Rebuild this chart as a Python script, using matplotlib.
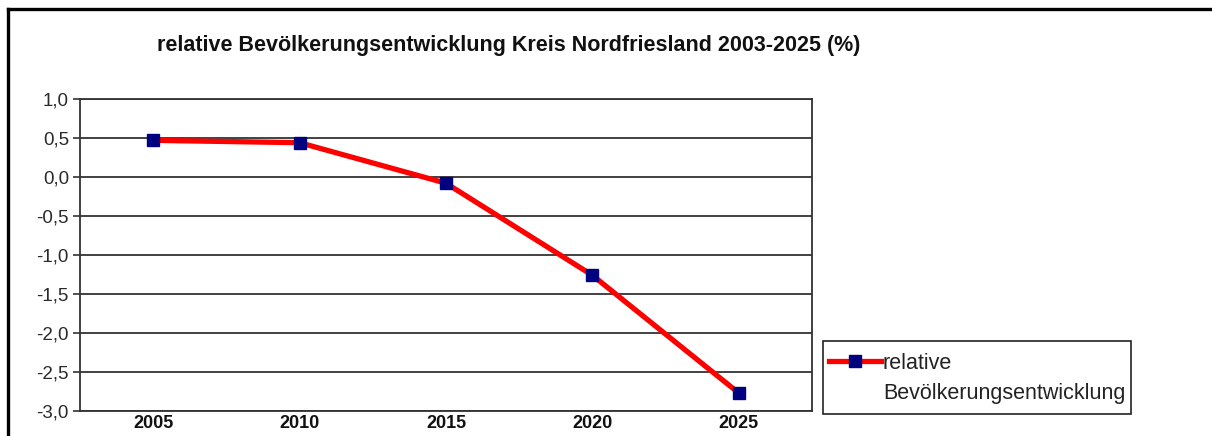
import matplotlib
matplotlib.use("Agg")
import matplotlib.pyplot as plt
from matplotlib.lines import Line2D
from matplotlib.patches import Rectangle

plt.rcParams['font.family'] = ['Liberation Sans', 'DejaVu Sans']

years = ['2005', '2010', '2015', '2020', '2025']
values = [0.47, 0.44, -0.08, -1.26, -2.77]
y_ticks = [1.0, 0.5, 0.0, -0.5, -1.0, -1.5, -2.0, -2.5, -3.0]
y_labels = ['1,0', '0,5', '0,0', '-0,5', '-1,0', '-1,5', '-2,0', '-2,5', '-3,0']
title = 'relative Bevölkerungsentwicklung Kreis Nordfriesland 2003-2025 (%)'
label_line1 = 'relative'
label_line2 = 'Bevölkerungsentwicklung'

W, H = 1212, 436
fig = plt.figure(figsize=(W / 100, H / 100), dpi=100)
fig.patch.set_facecolor('white')

def fx(px):
    return px / W

def fy(py):
    return 1 - py / H

ax = fig.add_axes([fx(80), fy(411), fx(812) - fx(80), fy(99) - fy(411)])

x = list(range(len(years)))
line, = ax.plot(x, values, color='#ff0000', linewidth=3.8, marker='s',
                markersize=8.5, markerfacecolor='#000080', markeredgecolor='#000080',
                solid_joinstyle='miter', zorder=3)

ax.set_xlim(-0.5, len(years) - 0.5)
ax.set_ylim(-3.0, 1.0)
ax.set_yticks(y_ticks)
ax.set_yticklabels(y_labels, fontsize=13.5, color='#2a2a2a')
ax.set_xticks(x)
ax.set_xticklabels(years, fontsize=13, fontweight='bold', color='#111111')
ax.tick_params(axis='x', length=0, pad=3)
ax.tick_params(axis='y', length=5, width=1.2, color='#333333', pad=3)
ax.yaxis.grid(True, color='#333333', linewidth=1.3)
ax.set_axisbelow(True)
for s in ax.spines.values():
    s.set_color('#333333')
    s.set_linewidth(1.3)

fig.text(fx(509), fy(45), title, fontsize=15.5, fontweight='bold',
         ha='center', va='center', color='#111111')

# legend
fig.patches.append(Rectangle((fx(823), fy(414)), fx(1131) - fx(823), fy(341) - fy(414),
                             transform=fig.transFigure, facecolor='white',
                             edgecolor='#222222', linewidth=1.2))
blank = Line2D([], [], linestyle='none', marker='none')
leg = fig.legend([line, blank], [label_line1, label_line2], loc='upper left',
                 bbox_to_anchor=(fx(829), fy(353)), frameon=False,
                 fontsize=15.5, handlelength=2.4, handletextpad=0.1,
                 labelspacing=0.42, borderpad=0, borderaxespad=0)
for t in leg.get_texts():
    t.set_color('#222222')

# outer chart frame
fig.add_artist(Line2D([fx(7.5), fx(7.5)], [0, fy(9)], transform=fig.transFigure,
                      color='black', linewidth=2.4, solid_capstyle='projecting'))
fig.add_artist(Line2D([fx(7.5), 1], [fy(9), fy(9)], transform=fig.transFigure,
                      color='black', linewidth=2.4, solid_capstyle='projecting'))

fig.savefig('out.png', dpi=100, facecolor='white')
